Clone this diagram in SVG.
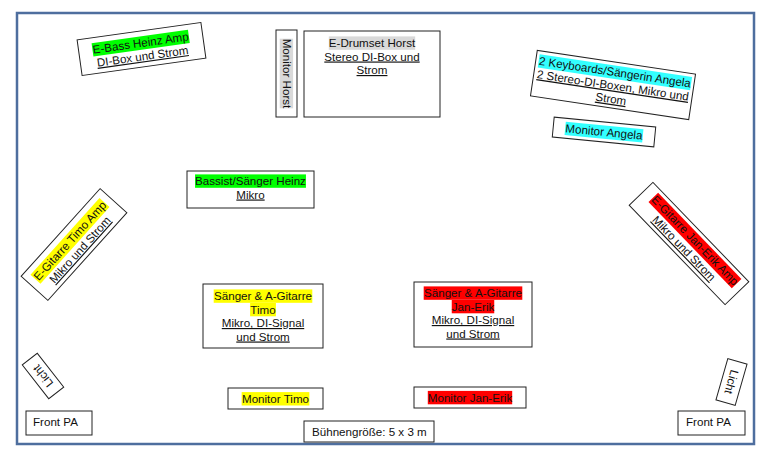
<svg xmlns="http://www.w3.org/2000/svg" width="768" height="459" viewBox="0 0 768 459">
<style>
.box{fill:#fff;stroke:#222;stroke-width:1}
.t{font-family:"Liberation Sans",Arial,sans-serif;font-size:11.6px;fill:#111;text-anchor:middle}
.l{text-anchor:start}
.u{text-decoration:underline}
.g{fill:#00ff00}.y{fill:#ffff00}.c{fill:#33ffff}.r{fill:#ff0000}.gr{fill:#d9d9d9}
</style>
<rect width="768" height="459" fill="#fff"/>
<rect id="frame" x="17" y="13" width="737" height="431" fill="none" stroke="#4e6e9e" stroke-width="2.5"/>
<g id="connectors"></g>

<g id="ebass" transform="translate(141.5,49) rotate(-8)">
<rect class="box" x="-62.5" y="-18" width="125" height="36"/>
<rect class="g" x="-48.65" y="-12.6" width="97.3" height="13.4"/>
<text class="t" x="0" y="-2">E-Bass Heinz Amp</text>
<text class="t u" x="0" y="11.5">DI-Box und Strom</text>
</g>

<g id="monitor-horst">
<rect class="box" x="276" y="30" width="21" height="87"/>
<g transform="translate(286.5,73.5) rotate(90)">
<rect class="gr" x="-34.8" y="-6.6" width="69.6" height="13.4"/>
<text class="t" x="0" y="4">Monitor Horst</text>
</g>
</g>

<g id="drumset">
<rect class="box" x="304" y="31" width="136" height="86"/>
<rect class="gr" x="328.8" y="36.4" width="86.4" height="13.4"/>
<text class="t" x="372" y="47">E-Drumset Horst</text>
<text class="t u" x="372" y="60.5">Stereo DI-Box und</text>
<text class="t u" x="372" y="74">Strom</text>
</g>

<g id="keyboards" transform="translate(613,85) rotate(8.5)">
<rect class="box" x="-80" y="-23" width="160" height="46"/>
<rect class="c" x="-77.05" y="-19.6" width="154.1" height="13.4"/>
<text class="t" x="0" y="-9">2 Keyboards/Sängerin Angela</text>
<text class="t u" x="0" y="4.5">2 Stereo-DI-Boxen, Mikro und</text>
<text class="t u" x="0" y="18">Strom</text>
</g>

<g id="monitor-angela" transform="translate(604,132) rotate(5.5)">
<rect class="box" x="-51" y="-10" width="102" height="20"/>
<rect class="c" x="-39" y="-6.6" width="78" height="13.4"/>
<text class="t" x="0" y="4">Monitor Angela</text>
</g>

<g id="egitarre-timo" transform="translate(74,244.5) rotate(-48)">
<rect class="box" x="-59" y="-18" width="118" height="36"/>
<rect class="y" x="-51.55" y="-12.1" width="103.1" height="13.4"/>
<text class="t" x="0" y="-1.5">E-Gitarre Timo Amp</text>
<text class="t u" x="0" y="12">Mikro und Strom</text>
</g>

<g id="egitarre-janerik" transform="translate(689,243.5) rotate(46)">
<rect class="box" x="-69" y="-16.5" width="138" height="33"/>
<rect class="r" x="-58" y="-13.1" width="119.9" height="13.4"/>
<text class="t" x="2" y="-2.5">E-Gitarre Jan-Erik Amp</text>
<text class="t u" x="0" y="11">Mikro und Strom</text>
</g>

<g id="bassist">
<rect class="box" x="187" y="171" width="127" height="37"/>
<rect class="g" x="195.05" y="174.4" width="110.9" height="13.4"/>
<text class="t" x="250.5" y="185">Bassist/Sänger Heinz</text>
<text class="t u" x="250.5" y="198.5">Mikro</text>
</g>

<g id="saenger-timo">
<rect class="box" x="203" y="284" width="120" height="64"/>
<rect class="y" x="213.7" y="289.4" width="98.6" height="13.4"/>
<rect class="y" x="250.1" y="302.9" width="25.8" height="13.4"/>
<text class="t" x="263" y="300">Sänger &amp; A-Gitarre</text>
<text class="t" x="263" y="313.5">Timo</text>
<text class="t u" x="263" y="327">Mikro, DI-Signal</text>
<text class="t u" x="263" y="340.5">und Strom</text>
</g>

<g id="saenger-janerik">
<rect class="box" x="414" y="282" width="118" height="65"/>
<rect class="r" x="423.7" y="286.4" width="98.6" height="13.4"/>
<rect class="r" x="451.75" y="299.9" width="42.5" height="13.4"/>
<text class="t" x="473" y="297">Sänger &amp; A-Gitarre</text>
<text class="t" x="473" y="310.5">Jan-Erik</text>
<text class="t u" x="473" y="324">Mikro, DI-Signal</text>
<text class="t u" x="473" y="337.5">und Strom</text>
</g>

<g id="monitor-timo">
<rect class="box" x="228" y="388" width="95" height="21"/>
<rect class="y" x="241.65" y="392.1" width="67.7" height="13.4"/>
<text class="t" x="275.5" y="402.7">Monitor Timo</text>
</g>

<g id="monitor-janerik">
<rect class="box" x="414" y="387" width="112" height="21"/>
<rect class="r" x="427.8" y="390.9" width="84.4" height="13.4"/>
<text class="t" x="470" y="401.5">Monitor Jan-Erik</text>
</g>

<g id="licht-left" transform="translate(43,376) rotate(-128)">
<rect class="box" x="-21.5" y="-9.5" width="43" height="19"/>
<text class="t" x="0" y="4">Licht</text>
</g>

<g id="licht-right" transform="translate(731.5,382) rotate(106)">
<rect class="box" x="-21.5" y="-10" width="43" height="20"/>
<text class="t" x="0" y="4">Licht</text>
</g>

<g id="frontpa-left">
<rect class="box" x="26" y="411" width="66" height="24"/>
<text class="t l" x="33" y="426">Front PA</text>
</g>

<g id="frontpa-right">
<rect class="box" x="678" y="411" width="67" height="24"/>
<text class="t l" x="686" y="426">Front PA</text>
</g>

<g id="buehne">
<rect class="box" x="304" y="421" width="130" height="21"/>
<text class="t l" x="312" y="436">Bühnengröße: 5 x 3 m</text>
</g>
</svg>
